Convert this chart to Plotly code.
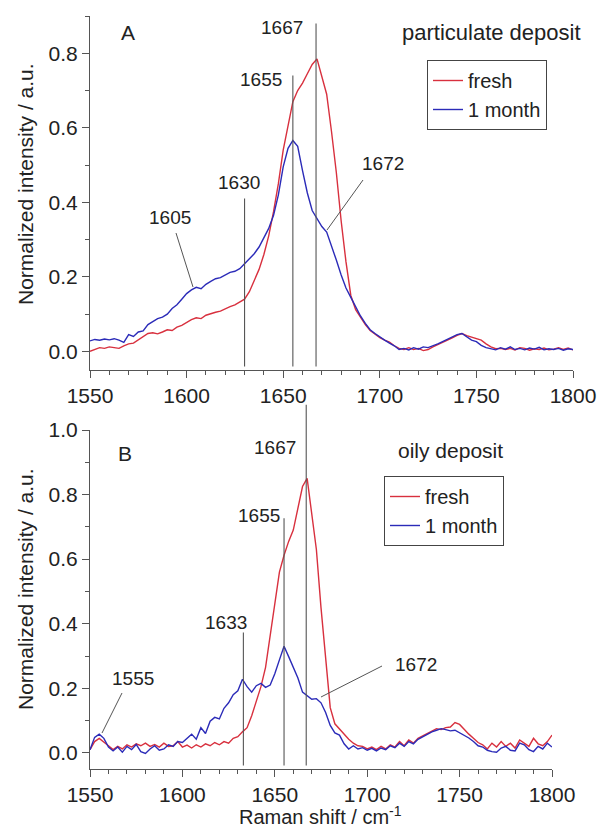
#!/usr/bin/env python3
# -*- coding: utf-8 -*-
"""
Raman spectra of particulate (A) and oily (B) deposits, fresh vs. after 1 month
"""

import numpy as np
import plotly.graph_objs as go

# Raman shift grid shared by all spectra (cm-1), 2.5 cm-1 step
ramanShift = np.arange(1550, 1800.1, 2.5)

# Panel A - particulate deposit
A_fresh = [
	0.000, 0.005, 0.010, 0.008, 0.012, 0.010, 0.008, 0.015, 0.020, 0.022,
	0.030, 0.040, 0.048, 0.050, 0.047, 0.052, 0.058, 0.056, 0.065, 0.070,
	0.078, 0.085, 0.090, 0.088, 0.097, 0.100, 0.105, 0.108, 0.115, 0.120,
	0.125, 0.132, 0.140, 0.160, 0.190, 0.220, 0.260, 0.310, 0.375, 0.450,
	0.540, 0.610, 0.670, 0.700, 0.720, 0.745, 0.770, 0.785, 0.740, 0.690,
	0.590, 0.480, 0.350, 0.240, 0.150, 0.112, 0.092, 0.072, 0.056, 0.046,
	0.037, 0.030, 0.025, 0.015, 0.008, 0.005, 0.010, 0.005, 0.008, 0.002,
	0.005, 0.012, 0.018, 0.022, 0.030, 0.036, 0.043, 0.048, 0.042, 0.038,
	0.036, 0.030, 0.020, 0.012, 0.007, 0.008, 0.005, 0.008, 0.004, 0.010,
	0.008, 0.003, 0.007, 0.005, 0.009, 0.004, 0.006, 0.010, 0.005, 0.009,
	0.004]
A_month = [
	0.028, 0.032, 0.030, 0.033, 0.031, 0.034, 0.030, 0.024, 0.045, 0.040,
	0.052, 0.055, 0.072, 0.080, 0.088, 0.092, 0.100, 0.115, 0.125, 0.140,
	0.155, 0.165, 0.172, 0.168, 0.180, 0.188, 0.195, 0.198, 0.205, 0.212,
	0.215, 0.222, 0.235, 0.248, 0.262, 0.280, 0.305, 0.330, 0.365, 0.420,
	0.495, 0.545, 0.566, 0.550, 0.485, 0.425, 0.378, 0.355, 0.335, 0.320,
	0.285, 0.245, 0.205, 0.170, 0.145, 0.118, 0.095, 0.075, 0.058, 0.048,
	0.038, 0.030, 0.022, 0.015, 0.005, 0.008, 0.004, 0.010, 0.006, 0.012,
	0.010, 0.014, 0.020, 0.026, 0.032, 0.038, 0.045, 0.048, 0.040, 0.030,
	0.026, 0.016, 0.010, 0.006, 0.004, 0.010, 0.006, 0.012, 0.005, 0.008,
	0.004, 0.009, 0.006, 0.011, 0.004, 0.007, 0.005, 0.008, 0.003, 0.007,
	0.005]

# Panel B - oily deposit
B_fresh = [
	0.010, 0.035, 0.045, 0.032, 0.022, 0.010, 0.020, 0.012, 0.025, 0.018,
	0.028, 0.022, 0.030, 0.020, 0.026, 0.018, 0.030, 0.020, 0.022, 0.035,
	0.018, 0.024, 0.015, 0.025, 0.018, 0.028, 0.022, 0.032, 0.025, 0.035,
	0.030, 0.045, 0.050, 0.065, 0.078, 0.115, 0.160, 0.205, 0.265, 0.360,
	0.470, 0.560, 0.612, 0.655, 0.690, 0.760, 0.825, 0.850, 0.745, 0.630,
	0.450, 0.285, 0.140, 0.090, 0.074, 0.058, 0.042, 0.030, 0.022, 0.020,
	0.012, 0.018, 0.010, 0.020, 0.012, 0.025, 0.018, 0.035, 0.022, 0.040,
	0.030, 0.045, 0.052, 0.060, 0.068, 0.075, 0.072, 0.078, 0.080, 0.094,
	0.088, 0.072, 0.058, 0.045, 0.032, 0.025, 0.012, 0.030, 0.018, 0.035,
	0.020, 0.030, 0.015, 0.040, 0.030, 0.020, 0.045, 0.028, 0.022, 0.035,
	0.055]
B_month = [
	0.010, 0.048, 0.058, 0.045, 0.018, 0.006, 0.018, 0.002, 0.020, 0.010,
	0.026, 0.004, -0.002, 0.012, 0.022, 0.008, 0.012, 0.025, 0.020, 0.035,
	0.032, 0.045, 0.058, 0.042, 0.078, 0.060, 0.098, 0.110, 0.105, 0.138,
	0.155, 0.180, 0.192, 0.228, 0.205, 0.188, 0.208, 0.215, 0.203, 0.210,
	0.245, 0.288, 0.330, 0.298, 0.265, 0.232, 0.188, 0.176, 0.166, 0.168,
	0.155, 0.125, 0.085, 0.062, 0.055, 0.028, 0.012, 0.022, 0.012, 0.016,
	0.008, 0.014, 0.006, 0.015, 0.010, 0.022, 0.016, 0.030, 0.020, 0.035,
	0.028, 0.042, 0.050, 0.058, 0.065, 0.070, 0.075, 0.072, 0.068, 0.070,
	0.062, 0.055, 0.046, 0.035, 0.022, 0.018, 0.008, 0.004, 0.002, 0.015,
	0.020, 0.008, 0.006, 0.030, 0.025, 0.010, 0.004, 0.020, 0.012, 0.030,
	0.018]

# Marked bands (position, top of the marker line in intensity units)
A_bands = [1630, 1655, 1667]
A_bandTops = [0.41, 0.74, 0.88]
B_bands = [1633, 1655, 1667]
B_bandTops = [0.373, 0.727, 1.078]

xRange = [1550, 1800]
A_yRange = [-0.05, 0.9]
B_yRange = [-0.05, 1.0]

W, H = 600, 828
FONT = 'Arial, Liberation Sans, sans-serif'
RED = '#d8303e'
BLUE = '#2b2bb8'
AXC = '#555555'
TXT = '#222222'


def px(x):
	"""pixel -> paper x"""
	return x / W


def py(y):
	"""pixel (from top) -> paper y"""
	return 1 - y / H


def frac(v, rng):
	return (v - rng[0]) / (rng[1] - rng[0])


data = []
for yv, nm, col, ax, leg in [(A_fresh, 'fresh', RED, '', 'legend'),
							(A_month, '1 month', BLUE, '', 'legend'),
							(B_fresh, 'fresh', RED, '2', 'legend2'),
							(B_month, '1 month', BLUE, '2', 'legend2')]:
	data.append(go.Scatter(
		x = ramanShift,
		y = yv,
		mode = 'lines',
		line = dict(color = col, width = 1.4),
		name = nm,
		xaxis = 'x' + ax,
		yaxis = 'y' + ax,
		legend = leg,
		))


def xAxis(domain, anchor):
	return dict(
		domain = domain,
		anchor = anchor,
		range = xRange,
		automargin = False,
		showline = True, linecolor = AXC, linewidth = 1.2,
		showgrid = False, zeroline = False,
		ticks = 'outside', ticklen = 7, tickcolor = AXC,
		tickmode = 'linear', tick0 = 1550, dtick = 50,
		minor = dict(dtick = 10, ticks = 'outside', ticklen = 4, tickcolor = AXC),
		tickfont = dict(family = FONT, size = 21, color = TXT),
		)


def yAxis(domain, anchor, rng):
	return dict(
		domain = domain,
		anchor = anchor,
		range = rng,
		automargin = False,
		showline = True, linecolor = AXC, linewidth = 1.2,
		showgrid = False, zeroline = False,
		ticks = 'outside', ticklen = 7, tickcolor = AXC,
		tickmode = 'linear', tick0 = 0, dtick = 0.2, tickformat = '.1f',
		minor = dict(dtick = 0.1, ticks = 'outside', ticklen = 4, tickcolor = AXC),
		tickfont = dict(family = FONT, size = 21, color = TXT),
		)


shapes = []
for bands, tops, ax, rng in [(A_bands, A_bandTops, '', A_yRange),
							(B_bands, B_bandTops, '2', B_yRange)]:
	for b, t in zip(bands, tops):
		shapes.append(dict(
			type = 'line', xref = 'x' + ax, yref = 'y' + ax + ' domain',
			x0 = b, x1 = b, y0 = 0.01, y1 = frac(t, rng),
			line = dict(color = AXC, width = 1.1)))

# leader lines for labels (pixel positions)
for x0, y0, x1, y1 in [(176, 233, 193, 287), (363, 180, 327, 230),
						(122, 693, 102, 733), (382, 666, 321, 697)]:
	shapes.append(dict(
		type = 'line', xref = 'paper', yref = 'paper',
		x0 = px(x0), y0 = py(y0), x1 = px(x1), y1 = py(y1),
		line = dict(color = AXC, width = 1)))

annotations = []
for txt, x, y, size in [('A', 128, 33, 21), ('particulate deposit', 491, 33, 22),
						('1667', 282, 27, 19), ('1655', 261, 80, 19),
						('1630', 239, 183, 19), ('1605', 170, 217, 19),
						('1672', 383, 163, 19),
						('B', 125, 453, 21), ('oily deposit', 450, 450, 21),
						('1667', 275, 448, 19), ('1655', 259, 515, 19),
						('1633', 226, 622, 19), ('1555', 133, 678, 19),
						('1672', 416, 664, 19),
						('Raman shift / cm<sup>-1</sup>', 320, 815, 20)]:
	annotations.append(dict(
		text = txt, x = px(x), y = py(y), xref = 'paper', yref = 'paper',
		xanchor = 'center', yanchor = 'middle', showarrow = False,
		font = dict(family = FONT, size = size, color = TXT)))

for y in [184, 589]:
	annotations.append(dict(
		text = 'Normalized intensity / a.u.', x = px(25), y = py(y),
		xref = 'paper', yref = 'paper', textangle = -90,
		xanchor = 'center', yanchor = 'middle', showarrow = False,
		font = dict(family = FONT, size = 21, color = TXT)))


def legendBox(x, y):
	return dict(
		x = px(x), y = py(y), xanchor = 'left', yanchor = 'top',
		bordercolor = '#444444', borderwidth = 1, bgcolor = 'white',
		font = dict(family = FONT, size = 20, color = TXT),
		itemwidth = 30, tracegroupgap = 0)


layout = {
	'width' : W,
	'height' : H,
	'margin' : dict(l = 0, r = 0, t = 0, b = 0),
	'paper_bgcolor' : 'white',
	'plot_bgcolor' : 'white',
	'xaxis' : xAxis([px(90), px(573)], 'y'),
	'yaxis' : yAxis([py(370), py(16)], 'x', A_yRange),
	'xaxis2' : xAxis([px(90), px(552)], 'y2'),
	'yaxis2' : yAxis([py(769), py(430)], 'x2', B_yRange),
	'legend' : legendBox(427, 60),
	'legend2' : legendBox(384, 476),
	'shapes' : shapes,
	'annotations' : annotations,
	'showlegend' : True,
}

figure = go.Figure(data = data, layout = layout)
# drop the default 8px page margin so the figure sits at the window origin
figure.write_html('out.html', config = {'displayModeBar': False},
	post_script = "document.body.style.margin = '0';")
